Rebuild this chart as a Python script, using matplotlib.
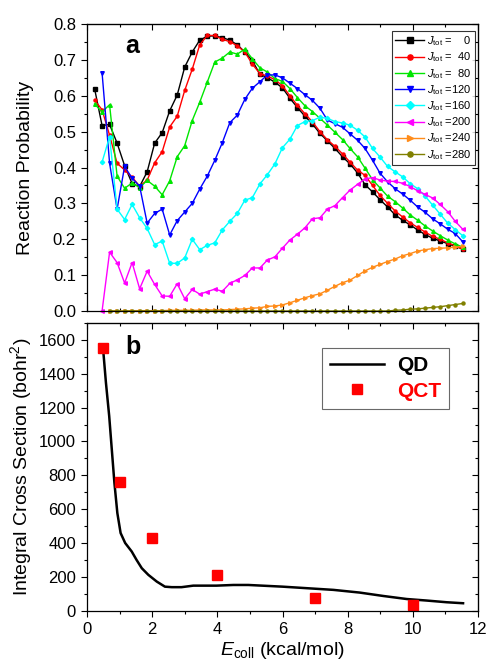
import numpy as np
import matplotlib
matplotlib.use('Agg')
import matplotlib.pyplot as plt
from matplotlib.ticker import MultipleLocator

plt.rcParams['font.family'] = ['Liberation Sans', 'DejaVu Sans']
plt.rcParams['mathtext.fontset'] = 'custom'
plt.rcParams['mathtext.rm'] = 'Liberation Sans'
plt.rcParams['mathtext.it'] = 'Liberation Sans:italic'
plt.rcParams['mathtext.bf'] = 'Liberation Sans:bold'

nan = np.nan

# collision energy grid: 0.01 ... 0.50 eV, shown in kcal/mol
E_ev = np.arange(1, 51) * 0.01
E_kcal = E_ev * 23.06

# reaction probability for each J_tot (panel a)
p_j0 = [0.62, 0.517, 0.52, 0.468, 0.405, 0.355, 0.347, 0.388, 0.468, 0.497,
        0.558, 0.602, 0.68, 0.722, 0.755, 0.766, 0.767, 0.762, 0.755, 0.742,
        0.722, 0.698, 0.66, 0.65, 0.638, 0.622, 0.593, 0.567, 0.543, 0.521,
        0.495, 0.474, 0.453, 0.43, 0.41, 0.385, 0.352, 0.332, 0.31, 0.29,
        0.268, 0.253, 0.24, 0.226, 0.213, 0.203, 0.195, 0.188, 0.18, 0.173]
p_j40 = [0.588, 0.561, 0.49, 0.412, 0.393, 0.373, 0.348, 0.365, 0.413, 0.444,
         0.513, 0.543, 0.615, 0.674, 0.742, 0.768, 0.768, 0.757, 0.751, 0.739,
         0.722, 0.688, 0.662, 0.655, 0.645, 0.628, 0.6, 0.573, 0.55, 0.527,
         0.5, 0.477, 0.459, 0.438, 0.415, 0.393, 0.378, 0.35, 0.322, 0.3,
         0.279, 0.262, 0.246, 0.233, 0.22, 0.208, 0.2, 0.19, 0.182, 0.172]
p_j80 = [0.577, 0.555, 0.575, 0.376, 0.342, 0.357, 0.344, 0.364, 0.348, 0.324,
         0.363, 0.43, 0.461, 0.531, 0.582, 0.638, 0.694, 0.705, 0.722, 0.716,
         0.73, 0.703, 0.678, 0.666, 0.648, 0.64, 0.62, 0.595, 0.572, 0.556,
         0.537, 0.518, 0.498, 0.478, 0.453, 0.43, 0.398, 0.366, 0.343, 0.32,
         0.305, 0.287, 0.268, 0.253, 0.237, 0.223, 0.21, 0.198, 0.187, 0.178]
p_j120 = [nan, 0.664, 0.412, 0.284, 0.403, 0.37, 0.348, 0.245, 0.272, 0.284,
          0.212, 0.252, 0.276, 0.3, 0.34, 0.376, 0.42, 0.469, 0.525, 0.546,
          0.59, 0.621, 0.639, 0.658, 0.658, 0.65, 0.635, 0.62, 0.603, 0.587,
          0.565, 0.532, 0.522, 0.512, 0.494, 0.476, 0.453, 0.42, 0.384, 0.36,
          0.341, 0.326, 0.309, 0.29, 0.275, 0.257, 0.243, 0.228, 0.216, 0.193]
p_j160 = [nan, 0.415, 0.486, 0.284, 0.255, 0.297, 0.26, 0.23, 0.185, 0.195,
          0.133, 0.133, 0.148, 0.2, 0.171, 0.183, 0.19, 0.226, 0.25, 0.272,
          0.309, 0.316, 0.354, 0.38, 0.41, 0.455, 0.479, 0.517, 0.528, 0.531,
          0.54, 0.537, 0.528, 0.524, 0.518, 0.504, 0.485, 0.453, 0.429, 0.403,
          0.388, 0.374, 0.355, 0.341, 0.32, 0.295, 0.27, 0.245, 0.227, 0.21]
p_j200 = [nan, 0.0, 0.164, 0.135, 0.078, 0.135, 0.062, 0.111, 0.074, 0.042,
          0.041, 0.076, 0.034, 0.06, 0.047, 0.054, 0.061, 0.055, 0.077, 0.087,
          0.099, 0.12, 0.12, 0.142, 0.151, 0.175, 0.198, 0.214, 0.232, 0.257,
          0.26, 0.284, 0.294, 0.316, 0.337, 0.353, 0.368, 0.372, 0.365, 0.362,
          0.361, 0.356, 0.347, 0.335, 0.325, 0.315, 0.297, 0.277, 0.25, 0.228]
p_j240 = [nan, nan, 0.0, 0.0, 0.0, 0.001, 0.001, 0.001, 0.001, 0.001,
          0.002, 0.002, 0.002, 0.002, 0.003, 0.003, 0.003, 0.003, 0.004, 0.005,
          0.006, 0.008, 0.009, 0.013, 0.014, 0.017, 0.023, 0.03, 0.037, 0.043,
          0.048, 0.058, 0.069, 0.079, 0.086, 0.099, 0.112, 0.122, 0.13, 0.138,
          0.145, 0.154, 0.16, 0.167, 0.171, 0.174, 0.175, 0.176, 0.178, 0.18]
p_j280 = [nan, nan, 0.0, 0.0, 0.0, 0.0, 0.0, 0.0, 0.0, 0.0,
          0.0, 0.0, 0.0, 0.0, 0.0, 0.0, 0.0, 0.0, 0.0, 0.0,
          0.0, 0.0, 0.0, 0.0, 0.0, 0.0, 0.0, 0.0, 0.0, 0.0,
          0.0, 0.0, 0.0, 0.0, 0.0, 0.0, 0.0, 0.0, 0.0, 0.0,
          0.002, 0.003, 0.005, 0.006, 0.008, 0.01, 0.012, 0.015, 0.018, 0.021]

j_labels = ['=    0', '=  40', '=  80', '=120', '=160', '=200', '=240', '=280']
j_colors = ['black', 'red', '#00e600', '#0000ff', '#00ffff', '#ff00ff', '#ff8c1a', '#808000']
j_markers = ['s', 'o', '^', 'v', 'D', '<', '>', 'o']

# integral cross section (panel b)
E_qd = [0.5, 0.58, 0.68, 0.76, 0.84, 0.93, 1.03, 1.17, 1.37, 1.52, 1.68, 1.88,
        2.14, 2.39, 2.6, 2.9, 3.26, 3.97, 4.49, 4.95, 6.0, 6.74, 7.56, 8.37,
        9.09, 9.81, 10.42, 11.03, 11.54]
ics_qd = [1530, 1347, 1150, 952, 755, 577, 459, 400, 350, 300, 251, 212,
          172, 142, 139, 139, 148, 148, 152, 152, 142, 133, 123, 107,
          87, 69, 60, 50, 44]
E_qct = [0.5, 1.0, 2.0, 4.0, 7.0, 10.0]
ics_qct = [1550, 758, 427, 213, 73, 34]


def set_ticks(ax, ymaj, ymin, bottom_dir):
    ax.set_xlim(0, 12)
    ax.xaxis.set_major_locator(MultipleLocator(2))
    ax.xaxis.set_minor_locator(MultipleLocator(1))
    ax.yaxis.set_major_locator(MultipleLocator(ymaj))
    ax.yaxis.set_minor_locator(MultipleLocator(ymin))
    ax.tick_params(axis='y', which='both', direction='out', left=True, right=False,
                   labelsize=12, width=0.8)
    ax.tick_params(axis='x', which='both', direction=bottom_dir, bottom=True, top=False,
                   labelsize=12, width=0.8)
    ax.tick_params(which='major', length=4.5)
    ax.tick_params(which='minor', length=2.5)
    top = ax.secondary_xaxis('top')
    top.xaxis.set_major_locator(MultipleLocator(2))
    top.xaxis.set_minor_locator(MultipleLocator(1))
    top.tick_params(which='both', direction='in', labeltop=False, width=0.8)
    top.tick_params(which='major', length=4.5)
    top.tick_params(which='minor', length=2.5)
    right = ax.secondary_yaxis('right')
    right.yaxis.set_major_locator(MultipleLocator(ymaj))
    right.yaxis.set_minor_locator(MultipleLocator(ymin))
    right.tick_params(which='both', direction='in', labelright=False, width=0.8)
    right.tick_params(which='major', length=4.5)
    right.tick_params(which='minor', length=2.5)
    for s in ax.spines.values():
        s.set_linewidth(0.9)


fig = plt.figure(figsize=(4.89, 6.63), dpi=100)
ax1 = fig.add_axes([0.178, 0.5309, 0.7996, 0.4329])
ax2 = fig.add_axes([0.178, 0.0789, 0.7996, 0.4339])

# panel a
curves = [p_j0, p_j40, p_j80, p_j120, p_j160, p_j200, p_j240, p_j280]
for p, lab, c, m in zip(curves, j_labels, j_colors, j_markers):
    ms = 2.2 if m in ('D', 'o') else 2.6
    ax1.plot(E_kcal, p, color=c, marker=m, ms=ms, lw=1.0,
             label=r'$J_{\rm tot}$ ' + lab, clip_on=False)

ax1.set_ylim(0, 0.8)
set_ticks(ax1, 0.1, 0.05, 'in')
ax1.tick_params(labelbottom=False)
ax1.set_ylabel('Reaction Probability', fontsize=14)
ax1.yaxis.set_label_coords(-0.135, 0.5)
ax1.text(0.115, 0.925, 'a', transform=ax1.transAxes, fontsize=18,
         fontweight='bold', ha='center', va='center')
leg1 = ax1.legend(loc='upper right', bbox_to_anchor=(0.992, 0.976), fontsize=8,
                  frameon=True, fancybox=False, edgecolor='black', borderaxespad=0,
                  handlelength=2.6, labelspacing=0.22, handletextpad=0.3,
                  borderpad=0.3, markerscale=1.7)
leg1.get_frame().set_linewidth(0.8)

# panel b
ax2.plot(E_qd, ics_qd, color='black', lw=1.8, label='QD')
ax2.plot(E_qct, ics_qct, ls='none', marker='s', color='red', ms=7.5,
         label='QCT', clip_on=False)
ax2.set_ylim(0, 1700)
set_ticks(ax2, 200, 100, 'out')
ax2.set_ylabel(r'Integral Cross Section (bohr$^2$)', fontsize=14)
ax2.yaxis.set_label_coords(-0.135, 0.5)
ax2.set_xlabel(r'$E_{\rm coll}$ (kcal/mol)', fontsize=14, labelpad=2)
ax2.text(0.118, 0.917, 'b', transform=ax2.transAxes, fontsize=18,
         fontweight='bold', ha='center', va='center')
leg2 = ax2.legend(loc='upper right', bbox_to_anchor=(0.926, 0.913), fontsize=15,
                  frameon=True, fancybox=False, edgecolor='#444444', borderaxespad=0,
                  handlelength=2.6, handletextpad=0.6, borderpad=0.4,
                  labelspacing=0.3)
leg2.get_frame().set_linewidth(0.8)
for t, c in zip(leg2.get_texts(), ['black', 'red']):
    t.set_color(c)
    t.set_fontweight('bold')

fig.savefig('out.png', dpi=100)
